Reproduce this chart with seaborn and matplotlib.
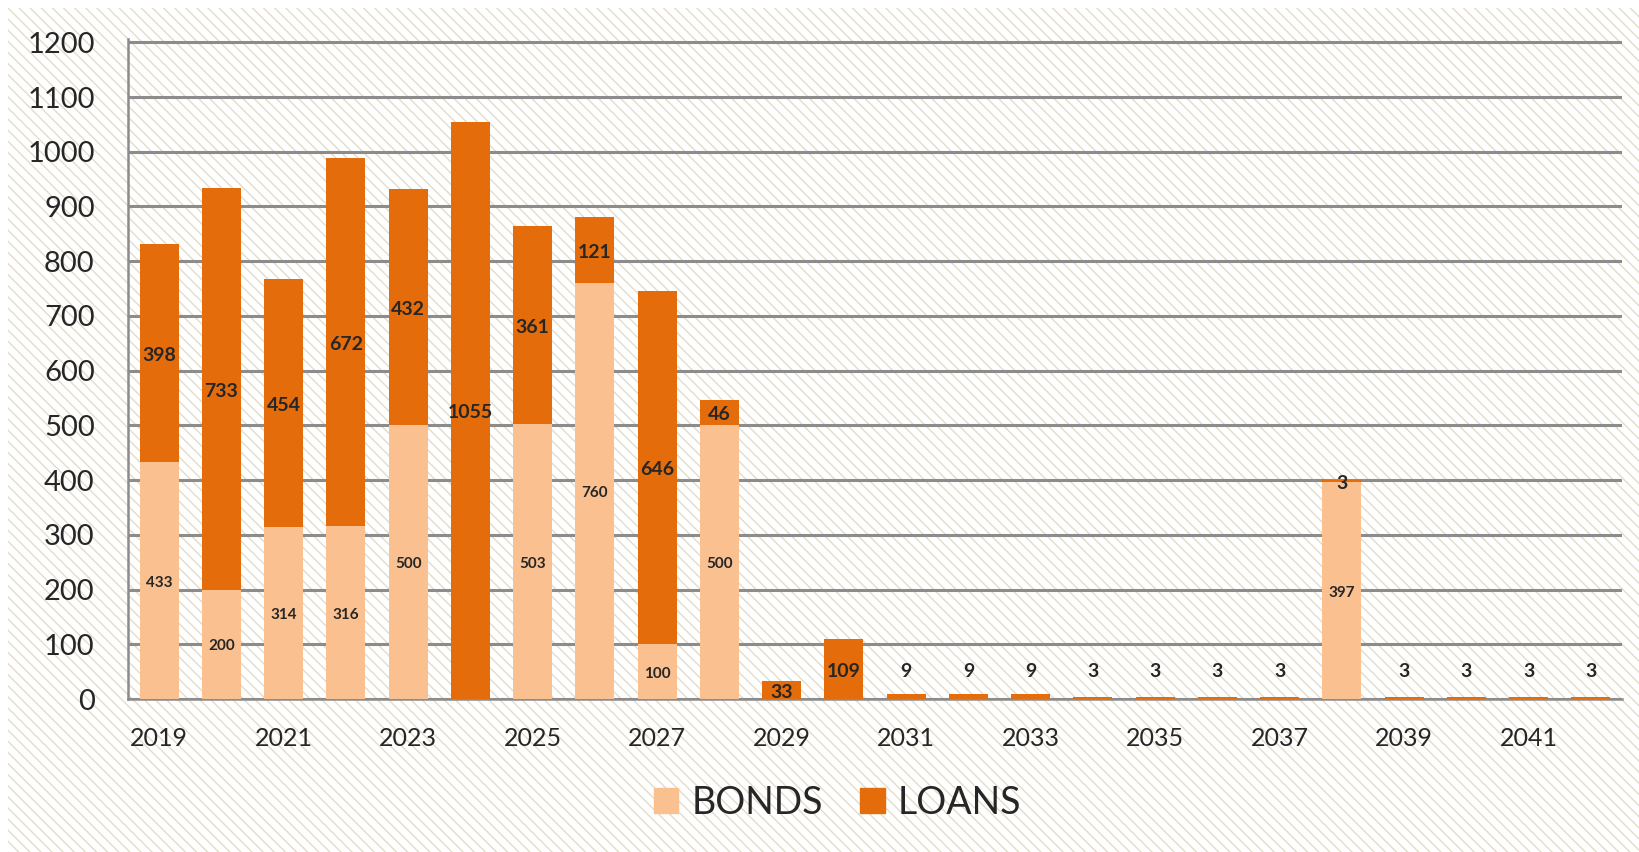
import numpy as np
import pandas as pd
import matplotlib
matplotlib.use("Agg")
import matplotlib.pyplot as plt
from matplotlib.patches import Rectangle
import seaborn as sns

years = [str(y) for y in range(2019, 2043)]
bonds = [433, 200, 314, 316, 500, 0, 503, 760, 100, 500, 0, 0,
         0, 0, 0, 0, 0, 0, 0, 397, 0, 0, 0, 0]
loans = [398, 733, 454, 672, 432, 1055, 361, 121, 646, 46, 33, 109,
         9, 9, 9, 3, 3, 3, 3, 3, 3, 3, 3, 3]

BOND_COLOR = "#FAC090"
LOAN_COLOR = "#E46C0A"
GRID_COLOR = "#8c8c8c"
HATCH_COLOR = "#e2dccb"

df = pd.DataFrame({"year": years, "bonds": bonds, "loans": loans})
df["total"] = df["bonds"] + df["loans"]

sns.set_style("white")
plt.rcParams["font.family"] = ["Lato", "DejaVu Sans"]
plt.rcParams["hatch.linewidth"] = 1.0
plt.rcParams["hatch.color"] = HATCH_COLOR

fig = plt.figure(figsize=(16.39, 8.52), dpi=100)
fig.patch.set_facecolor("white")
# hatched backdrop of the chart area
bg = Rectangle((8 / 1639, 0), 1, 1 - 8 / 852, transform=fig.transFigure,
               facecolor="white", edgecolor=HATCH_COLOR, hatch="\\\\\\", linewidth=0, zorder=-10)
fig.patches.append(bg)

ax = fig.add_axes([128 / 1639, 1 - 699 / 852, (1622 - 128) / 1639, (699 - 39) / 852])
ax.patch.set_alpha(0)

# loans stacked on bonds: draw totals first, bonds over them
sns.barplot(data=df, x="year", y="total", color=LOAN_COLOR, saturation=1,
            width=0.63, ax=ax, zorder=3, linewidth=0)
sns.barplot(data=df, x="year", y="bonds", color=BOND_COLOR, saturation=1,
            width=0.63, ax=ax, zorder=4, linewidth=0)

for i, row in df.iterrows():
    if row["bonds"] > 0:
        ax.text(i, row["bonds"] / 2 - 4, f"{row['bonds']}", ha="center", va="center",
                fontsize=11, fontweight="bold", zorder=6)
    ly = row["bonds"] + row["loans"] / 2 - 4
    if row["total"] < 20:
        ly = 50
    ax.text(i, ly, f"{row['loans']}", ha="center", va="center",
            fontsize=14, fontweight="bold", zorder=6)

ax.set_ylim(0, 1206)
ax.set_xlim(-0.5, len(years) - 0.5)
ax.set_yticks(range(0, 1201, 100))
ax.yaxis.grid(True, color=GRID_COLOR, linewidth=2.2, zorder=1)
ax.set_axisbelow(True)
ax.tick_params(axis="y", labelsize=21, length=8, width=1.5, color=GRID_COLOR, pad=16, direction="out")

ax.set_xticks(np.arange(-0.5, len(years), 1))
ax.set_xticklabels([])
ax.tick_params(axis="x", which="major", length=6, width=1.5, color=GRID_COLOR, direction="out")
ax.set_xticks(np.arange(0, len(years), 2), minor=True)
ax.set_xticklabels(years[::2], minor=True)
ax.tick_params(axis="x", which="minor", length=0, labelsize=18, pad=20)

for side in ["top", "right"]:
    ax.spines[side].set_visible(False)
for side in ["left", "bottom"]:
    ax.spines[side].set_color(GRID_COLOR)
    ax.spines[side].set_linewidth(1.8)
ax.set_xlabel("")
ax.set_ylabel("")

handles = [Rectangle((0, 0), 1, 1, color=BOND_COLOR), Rectangle((0, 0), 1, 1, color=LOAN_COLOR)]
fig.legend(handles, ["BONDS", "LOANS"], loc="center", bbox_to_anchor=(0.511, 0.0575),
           ncol=2, frameon=False, fontsize=27, handlelength=0.65, handleheight=0.65,
           handletextpad=0.35, columnspacing=1.0)

fig.savefig("out.png", dpi=100, facecolor=fig.get_facecolor())
